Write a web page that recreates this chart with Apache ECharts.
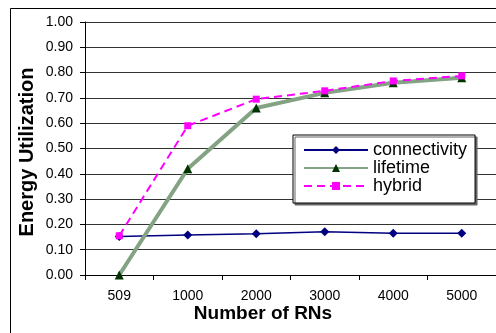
<!DOCTYPE html>
<html>
<head>
<meta charset="utf-8">
<script src="https://cdn.jsdelivr.net/npm/echarts@6/dist/echarts.min.js"></script>
<style>
  html, body { margin: 0; padding: 0; background: #fff; }
  #chart { width: 496px; height: 333px; }
</style>
</head>
<body>
<div id="chart"></div>
<script>
// Number of relay nodes on the x axis
const categories = ['509', '1000', '2000', '3000', '4000', '5000'];
// Energy utilization per strategy
const connectivity = [0.152, 0.158, 0.163, 0.171, 0.165, 0.165];
const lifetime = [0.00, 0.42, 0.66, 0.72, 0.76, 0.78];
const hybrid = [0.155, 0.59, 0.695, 0.728, 0.767, 0.787];
// Y axis range and step
const yMin = 0, yMax = 1, yStep = 0.1;

const FONT = '"Liberation Sans", Arial, sans-serif';
const chart = echarts.init(document.getElementById('chart'), null, { renderer: 'canvas' });

chart.setOption({
  animation: false,
  backgroundColor: '#fff',
  textStyle: { fontFamily: FONT },
  grid: { left: 85, top: 22, right: -5, bottom: 58, containLabel: false },
  xAxis: {
    type: 'category',
    data: categories,
    boundaryGap: true,
    axisLine: { lineStyle: { color: '#000', width: 1 } },
    axisTick: { show: true, length: 5, lineStyle: { color: '#000' } },
    axisLabel: { color: '#000', fontSize: 14, margin: 14, fontFamily: FONT },
    splitLine: { show: false }
  },
  yAxis: {
    type: 'value',
    min: yMin, max: yMax, interval: yStep,
    axisLine: { show: true, lineStyle: { color: '#000', width: 1 } },
    axisTick: { show: true, length: 5, lineStyle: { color: '#000' } },
    axisLabel: { color: '#000', fontSize: 14, margin: 12, fontFamily: FONT,
      formatter: v => v.toFixed(2) },
    splitLine: { show: true, lineStyle: { color: '#333', width: 1 } }
  },
  legend: {
    orient: 'vertical',
    left: 293, top: 135,
    padding: [6, 8, 8, 10],
    itemWidth: 64, itemHeight: 10, itemGap: 0,
    backgroundColor: '#fff',
    borderColor: '#000', borderWidth: 1, borderRadius: 0,
    shadowColor: '#666', shadowBlur: 0, shadowOffsetX: 2, shadowOffsetY: 2,
    textStyle: { fontSize: 18, color: '#000', fontFamily: FONT, lineHeight: 17 },
    data: ['connectivity', 'lifetime', 'hybrid']
  },
  series: [
    {
      name: 'connectivity', type: 'line', data: connectivity,
      symbol: 'diamond', symbolSize: 9,
      lineStyle: { color: '#000080', width: 1.5 },
      itemStyle: { color: '#000080' },
      z: 2
    },
    {
      name: 'lifetime', type: 'line', data: lifetime,
      symbol: 'triangle', symbolSize: 9,
      lineStyle: { color: '#84a284', width: 4 },
      itemStyle: { color: '#003300' },
      z: 3
    },
    {
      name: 'hybrid', type: 'line', data: hybrid,
      symbol: 'rect', symbolSize: 7,
      lineStyle: { color: '#ff00ff', width: 2, type: [8, 5] },
      itemStyle: { color: '#ff00ff' },
      z: 4
    }
  ],
  graphic: [
    {
      type: 'rect', silent: true, z: 100,
      shape: { x: 10.5, y: 8.5, width: 520, height: 360 },
      style: { fill: 'none', stroke: '#000', lineWidth: 1 }
    },
    {
      type: 'text', silent: true,
      x: 263, y: 314,
      style: { text: 'Number of RNs', font: 'bold 19px ' + FONT, fill: '#000',
        align: 'center', verticalAlign: 'middle' }
    },
    {
      type: 'text', silent: true,
      x: 27, y: 152, rotation: Math.PI / 2,
      style: { text: 'Energy Utilization', font: 'bold 20px ' + FONT, fill: '#000',
        align: 'center', verticalAlign: 'middle' }
    }
  ]
});
</script>
</body>
</html>
